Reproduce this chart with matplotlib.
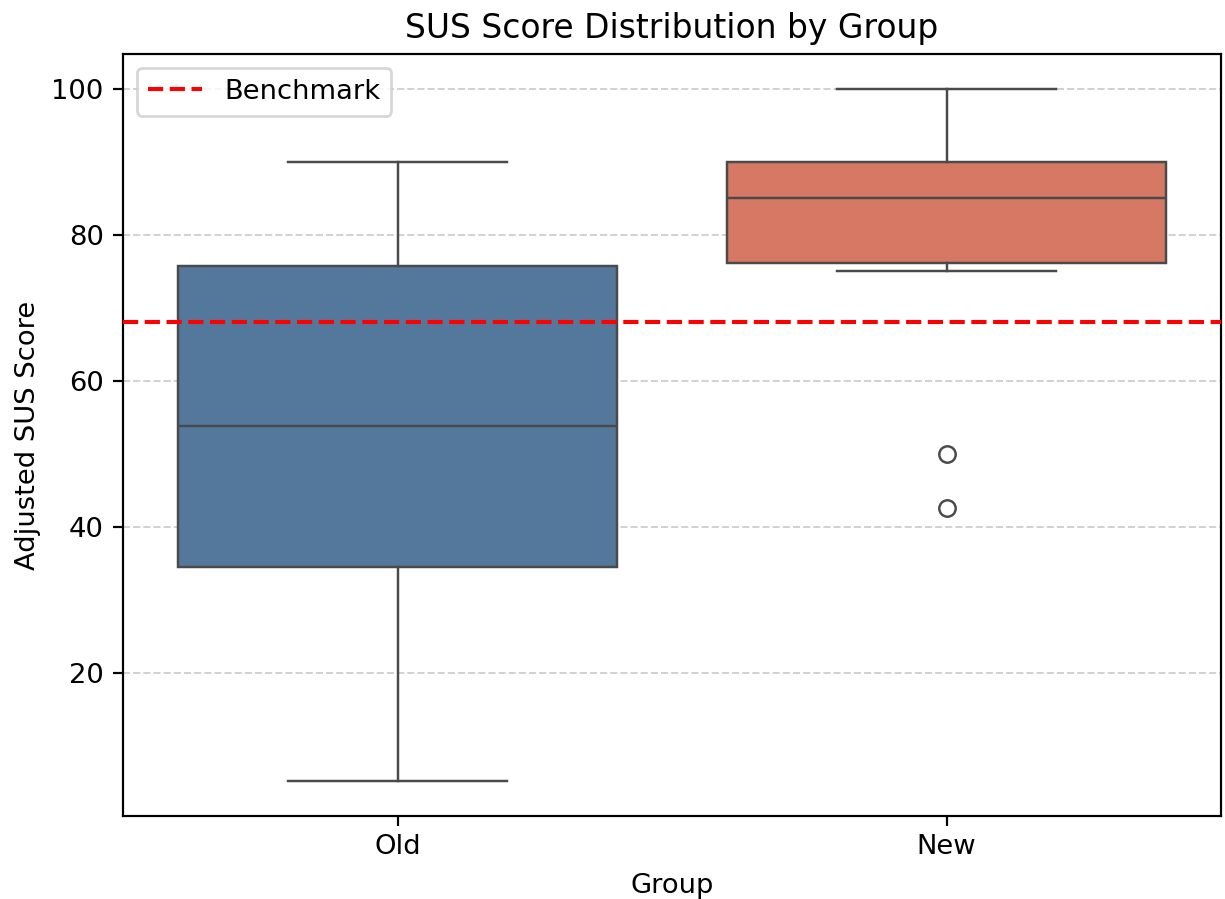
import matplotlib
matplotlib.use("Agg")
import matplotlib.pyplot as plt

groups = ["Old", "New"]
whislo = [5.2, 75.0]
q1 = [34.5, 76.2]
med = [53.8, 85.0]
q3 = [75.7, 90.0]
whishi = [90.0, 100.0]
fliers = [[], [50.0, 42.6]]
benchmark = 68
box_colors = ["#54789c", "#d67864"]

DPI = 197
fig = plt.figure(figsize=(1225/DPI, 899/DPI), dpi=DPI)
ax = fig.add_axes([123/1225, 1-816/899, (1221-123)/1225, (816-54)/899])

stats = []
for i, g in enumerate(groups):
    stats.append(dict(label=g, whislo=whislo[i], q1=q1[i], med=med[i],
                      q3=q3[i], whishi=whishi[i], fliers=fliers[i]))

lc = "#4a4a4a"
lw = 0.9
bp = ax.bxp(stats, positions=range(len(groups)), widths=0.8, patch_artist=True,
            showfliers=True,
            boxprops=dict(edgecolor=lc, linewidth=lw),
            medianprops=dict(color=lc, linewidth=lw),
            whiskerprops=dict(color=lc, linewidth=lw),
            capprops=dict(color=lc, linewidth=lw),
            flierprops=dict(marker="o", markerfacecolor="none", markeredgecolor=lc,
                            markersize=6, markeredgewidth=0.9),
            capwidths=0.4)
for patch, c in zip(bp["boxes"], box_colors):
    patch.set_facecolor(c)

ax.axhline(benchmark, color="red", linestyle="--", linewidth=1.5, label="Benchmark", zorder=5)
ax.set_xlim(-0.5, 1.5)
ax.set_ylim(0.46, 104.74)
ax.set_yticks([20, 40, 60, 80, 100])
ax.set_xticks([0, 1])
ax.set_xticklabels(groups)
ax.tick_params(axis="x", pad=3)
ax.yaxis.grid(True, linestyle="--", color="#cccccc", linewidth=0.7, alpha=0.9)
ax.set_axisbelow(True)
ax.set_title("SUS Score Distribution by Group", fontsize=12)
ax.set_xlabel("Group", labelpad=5)
ax.set_ylabel("Adjusted SUS Score")
ax.legend(loc="upper left")

fig.savefig("out.png", dpi=DPI)
